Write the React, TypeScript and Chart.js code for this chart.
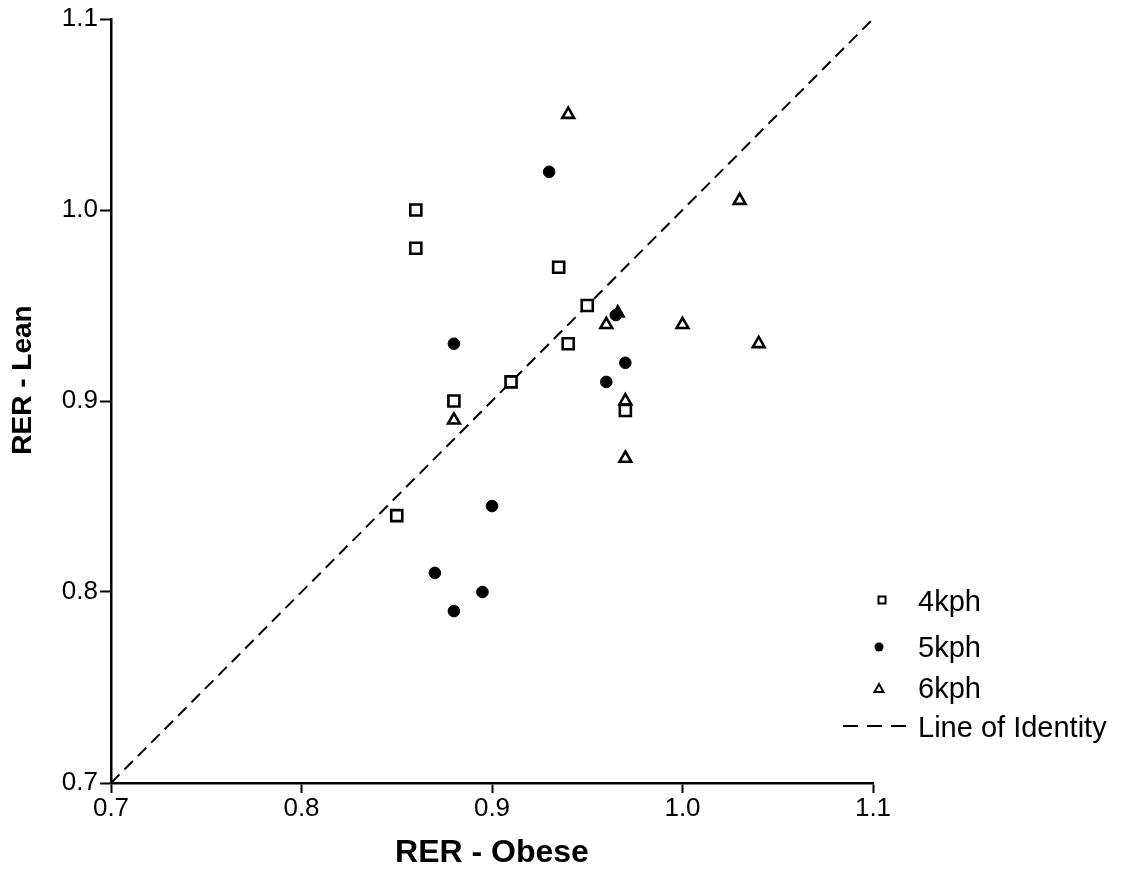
import { useEffect, useRef } from 'react';
import { Chart, registerables } from 'chart.js';

Chart.register(...registerables);

// RER - Obese (x) and RER - Lean (y) for each walking speed
const obese4kph = [0.86, 0.86, 0.935, 0.95, 0.94, 0.91, 0.88, 0.97, 0.85];
const lean4kph = [1.0, 0.98, 0.97, 0.95, 0.93, 0.91, 0.9, 0.895, 0.84];
const obese5kph = [0.93, 0.88, 0.965, 0.97, 0.96, 0.9, 0.87, 0.895, 0.88];
const lean5kph = [1.02, 0.93, 0.945, 0.92, 0.91, 0.845, 0.81, 0.8, 0.79];
const obese6kph = [0.94, 1.03, 0.96, 0.966, 1.0, 1.04, 0.97, 0.88, 0.97];
const lean6kph = [1.05, 1.005, 0.94, 0.946, 0.94, 0.93, 0.9, 0.89, 0.87];
const identityLine = [0.7, 1.1];
const tickValues = [0.7, 0.8, 0.9, 1.0, 1.1];
const seriesLabels = ['4kph', '5kph', '6kph', 'Line of Identity'];
const xTitle = 'RER - Obese';
const yTitle = 'RER - Lean';

const FONT = "'Liberation Sans', Arial, Helvetica, sans-serif";

const toPoints = (xs: number[], ys: number[]) => xs.map((x, i) => ({ x, y: ys[i] }));

const legendPlugin = {
  id: 'customLegend',
  afterDraw(chart: any) {
    const ctx = chart.ctx;
    ctx.save();
    ctx.fillStyle = '#000';
    ctx.strokeStyle = '#000';
    ctx.font = `29px ${FONT}`;
    ctx.textBaseline = 'alphabetic';
    ctx.textAlign = 'left';
    const textX = 918;
    // 4kph square
    ctx.lineWidth = 2;
    ctx.strokeRect(882 - 3.5, 600 - 3.5, 7, 7);
    ctx.fillText(chart.data.datasets[1].label, textX, 611);
    // 5kph circle
    ctx.beginPath();
    ctx.arc(879, 647, 4.5, 0, Math.PI * 2);
    ctx.fill();
    ctx.fillText(chart.data.datasets[2].label, textX, 657);
    // 6kph triangle
    ctx.beginPath();
    ctx.moveTo(879, 684);
    ctx.lineTo(883.5, 692);
    ctx.lineTo(874.5, 692);
    ctx.closePath();
    ctx.stroke();
    ctx.fillText(chart.data.datasets[3].label, textX, 698);
    // identity dashes
    ctx.beginPath();
    ctx.setLineDash([15, 9]);
    ctx.moveTo(843, 726);
    ctx.lineTo(907, 726);
    ctx.stroke();
    ctx.setLineDash([]);
    ctx.fillText(chart.data.datasets[0].label, textX, 737);
    ctx.restore();
  },
};

export default function App() {
  const canvasRef = useRef<HTMLCanvasElement | null>(null);

  useEffect(() => {
    const canvas = canvasRef.current;
    if (!canvas) return;
    const chart = new Chart(canvas, {
      type: 'scatter',
      data: {
        datasets: [
          {
            label: seriesLabels[3],
            data: toPoints(identityLine, identityLine),
            showLine: true,
            borderColor: '#000',
            borderWidth: 2,
            borderDash: [12, 7],
            pointRadius: 0,
            order: 4,
          },
          {
            label: seriesLabels[0],
            data: toPoints(obese4kph, lean4kph),
            pointStyle: 'rect',
            pointRadius: 7.8,
            pointBorderWidth: 2.6,
            pointBackgroundColor: '#fff',
            pointBorderColor: '#000',
            order: 2,
          },
          {
            label: seriesLabels[1],
            data: toPoints(obese5kph, lean5kph),
            pointStyle: 'circle',
            pointRadius: 5.8,
            pointBorderWidth: 1,
            pointBackgroundColor: '#000',
            pointBorderColor: '#000',
            order: 1,
          },
          {
            label: seriesLabels[2],
            data: toPoints(obese6kph, lean6kph),
            pointStyle: 'triangle',
            pointRadius: 6.8,
            pointBorderWidth: 2.6,
            pointBackgroundColor: '#fff',
            pointBorderColor: '#000',
            order: 3,
          },
        ],
      },
      options: {
        responsive: false,
        animation: false,
        events: [],
        layout: { padding: { left: 0, top: 19, right: 268, bottom: 0 } },
        plugins: {
          legend: { display: false },
          tooltip: { enabled: false },
        },
        scales: {
          x: {
            type: 'linear',
            min: 0.7,
            max: 1.1,
            afterFit: (s: any) => {
              s.height = 96;
            },
            afterBuildTicks: (s: any) => {
              s.ticks = tickValues.map((v) => ({ value: v }));
            },
            ticks: {
              color: '#000',
              font: { family: FONT, size: 26 },
              padding: 0,
              maxRotation: 0,
              callback: (v: any) => Number(v).toFixed(1),
            },
            grid: {
              drawOnChartArea: false,
              drawTicks: true,
              tickLength: 10,
              tickWidth: 2,
              tickColor: '#000',
            },
            border: { display: true, color: '#000', width: 2.5 },
            title: {
              display: true,
              text: xTitle,
              color: '#000',
              font: { family: FONT, size: 32, weight: 'bold' },
              padding: { top: 0, bottom: 7 },
            },
          },
          y: {
            type: 'linear',
            min: 0.7,
            max: 1.1,
            afterFit: (s: any) => {
              s.width = 111;
            },
            afterBuildTicks: (s: any) => {
              s.ticks = tickValues.map((v) => ({ value: v }));
            },
            ticks: {
              color: '#000',
              font: { family: FONT, size: 26 },
              padding: 2,
              callback: (v: any) => Number(v).toFixed(1),
            },
            grid: {
              drawOnChartArea: false,
              drawTicks: true,
              tickLength: 11,
              tickWidth: 2,
              tickColor: '#000',
            },
            border: { display: true, color: '#000', width: 2.5 },
            title: {
              display: true,
              text: '\u2002\u2002\u2002' + yTitle,
              color: '#000',
              font: { family: FONT, size: 28, weight: 'bold' },
              padding: { top: 6, bottom: 0 },
            },
          },
        },
      },
      plugins: [legendPlugin],
    });
    return () => chart.destroy();
  }, []);

  return (
    <div style={{ position: 'absolute', left: 0, top: 0, width: 1141, height: 879, background: '#fff' }}>
      <canvas ref={canvasRef} width={1141} height={879} />
    </div>
  );
}
